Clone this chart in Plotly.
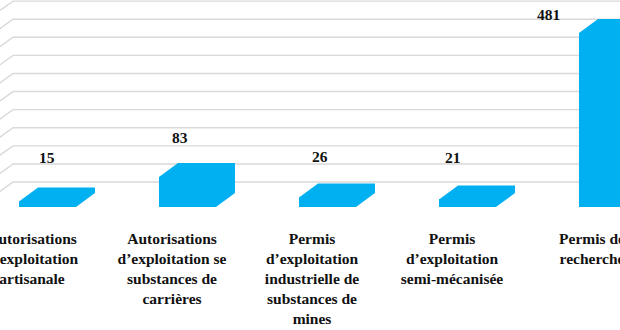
import plotly.graph_objects as go

# Number of permits / authorisations by type
categories = [
    "Autorisations<br>d’exploitation<br>artisanale",
    "Autorisations<br>d’exploitation se<br>substances de<br>carrières",
    "Permis<br>d’exploitation<br>industrielle de<br>substances de<br>mines",
    "Permis<br>d’exploitation<br>semi-mécanisée",
    "Permis de<br>recherche",
]
values = [15, 83, 26, 21, 481]
grid_values = [0, 50, 100, 150, 200, 250, 300, 350, 400, 450, 500]

# styling / pseudo-3D geometry (axis units)
BAR_COLOR = "#00B0F0"
GRID_COLOR = "#D9D9D9"
TEXT_COLOR = "#111111"
FONT = "Liberation Serif"
X0 = -0.2286
X1 = X0 + 620 / 140         # 140 px per category
Y0, Y1 = 0, 572             # visible y range (0 = front floor)
BAR_OFF, BAR_W = -0.093, 0.407
DEPTH_X, DEPTH_Y = 0.136, 38.7   # bar depth offset
WALL_Y = 69                       # back wall offset of gridlines
WALL_X = X0 + 0.093               # where the back wall starts
SIDE_DX, SIDE_DY = 0.35, 0.35 * 140 * 0.72 / 0.362

# value label offsets (px)
label_shift = [(15, 30), (8, 25), (8, 27), (1, 28), (-44, 4)]

fig = go.Figure()

# back wall gridlines with their side-wall segment on the left
for g in grid_values:
    yb = g + WALL_Y
    fig.add_trace(go.Scatter(
        x=[WALL_X - SIDE_DX, WALL_X, X1 + 1],
        y=[yb - SIDE_DY, yb, yb],
        mode="lines", line=dict(color=GRID_COLOR, width=1.4),
        hoverinfo="skip", showlegend=False,
    ))

# front faces
fig.add_trace(go.Bar(
    x=list(range(len(values))), y=values,
    offset=BAR_OFF, width=BAR_W,
    marker=dict(color=BAR_COLOR, line=dict(width=0)),
    showlegend=False,
))

# top and side faces
for i, v in enumerate(values):
    a = i + BAR_OFF
    b = a + BAR_W
    fig.add_trace(go.Scatter(
        x=[a, a, a + DEPTH_X, b + DEPTH_X, b + DEPTH_X, b, a],
        y=[0, v, v + DEPTH_Y, v + DEPTH_Y, DEPTH_Y, 0, 0],
        fill="toself", fillcolor=BAR_COLOR, mode="lines",
        line=dict(width=0, color=BAR_COLOR),
        hoverinfo="skip", showlegend=False,
    ))

for i, v in enumerate(values):
    dx, dy = label_shift[i]
    fig.add_annotation(
        x=i, y=v + DEPTH_Y, text=str(v), showarrow=False,
        xshift=dx, yshift=dy, xanchor="center", yanchor="middle",
        font=dict(family=FONT, size=15.5, color=TEXT_COLOR, weight="bold"),
    )

fig.update_layout(
    width=620, height=330,
    margin=dict(l=0, r=0, t=0, b=123),
    paper_bgcolor="white", plot_bgcolor="white",
    bargap=0,
    xaxis=dict(
        range=[X0, X1], tickvals=list(range(len(categories))),
        ticktext=categories, showgrid=False, zeroline=False,
        showline=False, ticks="", ticklabelstandoff=20,
        ticklabeloverflow="allow", automargin=False,
        tickfont=dict(family=FONT, size=15.5, color=TEXT_COLOR, weight="bold"),
    ),
    yaxis=dict(range=[Y0, Y1], visible=False, showgrid=False, zeroline=False,
               automargin=False),
)

fig.write_html("out.html")
